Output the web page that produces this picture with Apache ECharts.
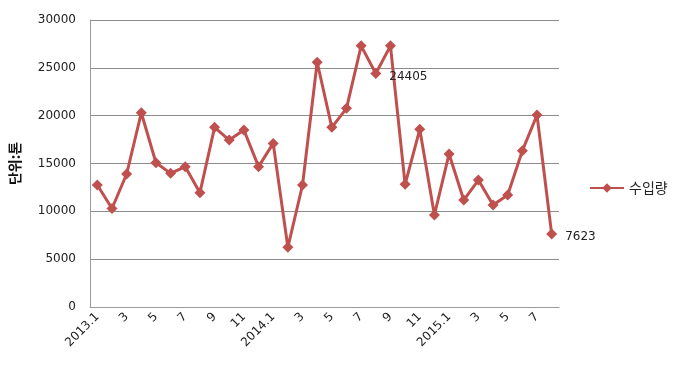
<!DOCTYPE html>
<html><head><meta charset="utf-8">
<script src="https://cdn.jsdelivr.net/npm/echarts@6/dist/echarts.min.js"></script>
<style>html,body{margin:0;padding:0;background:#fff}#c{width:676px;height:367px}</style>
</head><body><div id="c"></div>
<script>
const categories = ['2013.1','2','3','4','5','6','7','8','9','10','11','12',
  '2014.1','2','3','4','5','6','7','8','9','10','11','12',
  '2015.1','2','3','4','5','6','7','8'];
const imports = [12750,10300,13900,20300,15080,13970,14670,11950,18780,17450,18500,14670,
  17100,6240,12750,25580,18780,20770,27300,24405,27300,12820,18570,9620,
  16000,11180,13270,10660,11700,16340,20070,7623];
const labeledIdx = [19, 31];
const yTicks = [0,5000,10000,15000,20000,25000,30000];

const chart = echarts.init(document.getElementById('c'), null, {renderer:'canvas'});
const font = 'DejaVu Sans, Noto Sans CJK KR, sans-serif';
chart.setOption({
  animation:false,
  grid:{left:86,right:117,top:20,bottom:60},
  legend:{data:['수입량'],left:584,top:176,itemWidth:34,itemHeight:12,itemGap:4,
    textStyle:{fontFamily:'Noto Sans CJK KR',fontSize:14,color:'#222'}},
  xAxis:{type:'category',data:categories,boundaryGap:true,
    axisLine:{lineStyle:{color:'#9a9a9a'}},axisTick:{show:false},
    axisLabel:{interval:1,rotate:45,fontFamily:font,fontSize:12,color:'#222',margin:8}},
  yAxis:{type:'value',min:yTicks[0],max:yTicks[yTicks.length-1],interval:5000,
    name:'단위:톤',nameLocation:'middle',nameGap:68,nameRotate:90,
    nameTextStyle:{fontFamily:'Noto Sans CJK KR',fontSize:14,fontWeight:'bold',color:'#111'},
    axisLine:{show:true,lineStyle:{color:'#9a9a9a'}},axisTick:{show:false},
    splitLine:{lineStyle:{color:'#8c8c8c'}},
    axisLabel:{fontFamily:font,fontSize:12,color:'#222',margin:14,formatter:v=>String(v)}},
  series:[{name:'수입량',type:'line',showAllSymbol:true,
    data:imports.map((v,i)=>({value:v,
      label:{show:labeledIdx.includes(i),position:'right',offset:[2,3],distance:6,
        fontFamily:font,fontSize:12,color:'#222'}})),
    symbol:'diamond',symbolSize:11,
    lineStyle:{color:'#C0504D',width:3},itemStyle:{color:'#C0504D'}}]
});
</script></body></html>
